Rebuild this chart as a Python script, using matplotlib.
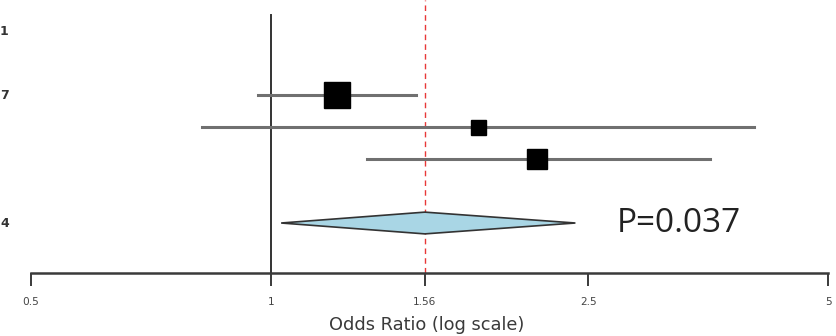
import matplotlib
matplotlib.use("Agg")
import matplotlib.pyplot as plt
from matplotlib.patches import Polygon
import matplotlib.transforms as mtransforms

# data
rows = [2, 3, 4]
odds = [1.21, 1.82, 2.16]
lower = [0.963, 0.82, 1.32]
upper = [1.52, 4.04, 3.56]
weights = [27, 15, 20]  # square sizes
pooled_row = 6
pooled_or = 1.56
pooled_lo = 1.03
pooled_hi = 2.41
tick_vals = [0.5, 1, 1.56, 2.5, 5]
tick_labels = ["0.5", "1", "1.56", "2.5", "5"]
left_fragments = [(0, "1"), (2, "7"), (6, "4")]
p_text = "P=0.037"

W, H = 836, 336
fig = plt.figure(figsize=(W / 100, H / 100), dpi=100)
ax = fig.add_axes([31 / W, (H - 273) / H, (828 - 31) / W, 273 / H])
ax.set_xscale("log")
ax.set_xlim(0.5, 5)
ax.set_ylim(7.5625, -0.97)
for s in ["top", "right", "left"]:
    ax.spines[s].set_visible(False)
ax.spines["bottom"].set_linewidth(1.8)
ax.spines["bottom"].set_color("#3a3a3a")
ax.set_yticks([])
ax.xaxis.set_minor_locator(matplotlib.ticker.NullLocator())
ax.set_xticks(tick_vals)
ax.set_xticklabels(tick_labels, fontsize=7.6, family="DejaVu Sans", color="#444444")
ax.tick_params(axis="x", length=9.0, width=1.4, color="#3a3a3a", pad=8)
ax.set_xlabel("Odds Ratio (log scale)", fontsize=12.8, family="DejaVu Sans",
              color="#3a3a3a")
ax.xaxis.set_label_coords((427 - 31) / (828 - 31), -0.158)

# vertical line at 1
ax.axvline(1, ymin=0, ymax=(7.5625 + 0.5) / (7.5625 + 0.97), color="#333333", lw=1.4)
# red dashed line at pooled
ax.axvline(pooled_or, color="#e83838", lw=1.0, ls=(0, (4, 3)))

# studies
for r, o, lo, hi, w in zip(rows, odds, lower, upper, weights):
    ax.plot([lo, hi], [r, r], color="#707070", lw=2.2, clip_on=False, zorder=3)
    ax.plot([o], [r], marker="s", color="black", markersize=w * 0.72, zorder=4, clip_on=False)

# diamond
dh = 0.34
diamond = Polygon([[pooled_lo, pooled_row], [pooled_or, pooled_row - dh],
                   [pooled_hi, pooled_row], [pooled_or, pooled_row + dh]],
                  closed=True, facecolor="#a9d6e5", edgecolor="#333333", lw=1.2, zorder=4)
ax.add_patch(diamond)

ax.text((617 - 31) / (828 - 31), pooled_row, p_text, transform=ax.get_yaxis_transform(),
        fontsize=24, family="Open Sans", color="#222222", va="center", ha="left")

frag_tr = mtransforms.blended_transform_factory(fig.transFigure, ax.transData)
for r, t in left_fragments:
    ax.text(0.0, r, t, transform=frag_tr, fontsize=9,
            fontweight="bold", color="#333333", va="center", ha="left",
            clip_on=False)

fig.savefig("out.png", dpi=100)
